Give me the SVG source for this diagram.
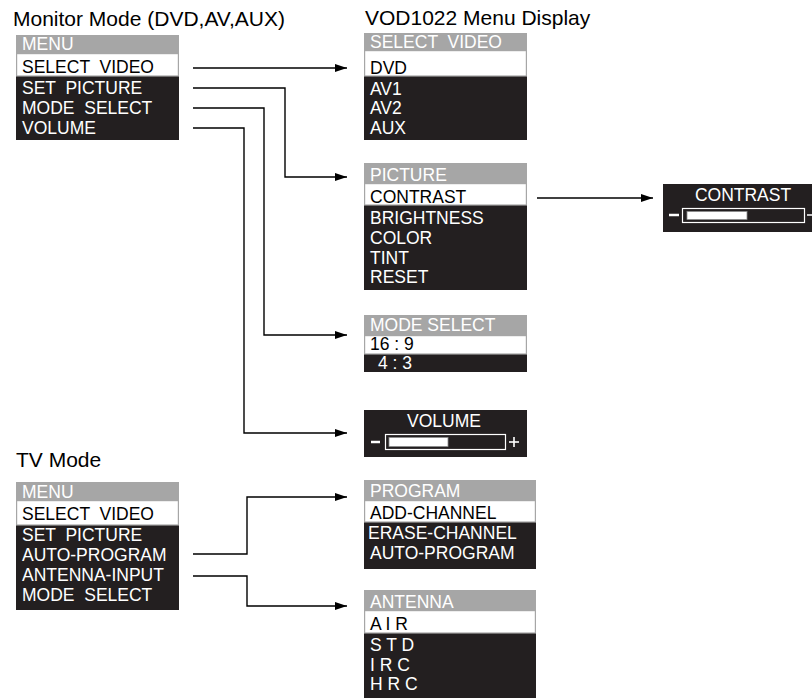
<svg xmlns="http://www.w3.org/2000/svg" width="812" height="700" viewBox="0 0 812 700">
<defs>
<style>
text{font-family:"Liberation Sans",Arial,sans-serif}
.ttl{font-size:21px;fill:#000}
.it{font-size:17.5px}
.hd{fill:#a6a6a6}
.hdt{fill:#ffffff}
.wr{fill:#ffffff;stroke:#a6a6a6;stroke-width:1.2}
.wt{fill:#000}
.bk{fill:#231f20}
.bt{fill:#ffffff}
.cn{fill:none;stroke:#000;stroke-width:1.4}
.wl{stroke:#fff;fill:none}
</style>
<marker id="ah" viewBox="0 0 12 8" refX="12" refY="4" markerWidth="12" markerHeight="8" markerUnits="userSpaceOnUse" orient="auto">
<path d="M0,0 L12,4 L0,8 Z" fill="#000"/>
</marker>
</defs>
<rect width="812" height="700" fill="#fff"/>

<text class="ttl" x="13" y="26">Monitor Mode (DVD,AV,AUX)</text>
<text class="ttl" x="365" y="25">VOD1022 Menu Display</text>
<text class="ttl" x="16" y="467">TV Mode</text>

<g id="monitor-menu">
<rect class="hd" x="16" y="35" width="163" height="18"/>
<rect class="bk" x="16" y="76" width="163" height="64"/>
<rect class="wr" x="16.6" y="53.6" width="161.8" height="22.4"/>
<text class="it hdt" x="22" y="50">MENU</text>
<text class="it wt" x="22" y="73" xml:space="preserve">SELECT  VIDEO</text>
<text class="it bt" x="22" y="94" xml:space="preserve">SET  PICTURE</text>
<text class="it bt" x="22" y="114" xml:space="preserve">MODE  SELECT</text>
<text class="it bt" x="22" y="134">VOLUME</text>
</g>

<g id="select-video">
<rect class="hd" x="364" y="33" width="163" height="17"/>
<rect class="bk" x="364" y="76" width="163" height="64"/>
<rect class="wr" x="364.6" y="50.6" width="161.8" height="25.4"/>
<text class="it hdt" x="370" y="48" xml:space="preserve">SELECT  VIDEO</text>
<text class="it wt" x="370" y="74">DVD</text>
<text class="it bt" x="370" y="95">AV1</text>
<text class="it bt" x="370" y="114">AV2</text>
<text class="it bt" x="370" y="134">AUX</text>
</g>

<g id="picture">
<rect class="hd" x="364" y="163" width="163" height="20"/>
<rect class="bk" x="364" y="205" width="163" height="85"/>
<rect class="wr" x="364.6" y="183.6" width="161.8" height="21.4"/>
<text class="it hdt" x="370" y="181">PICTURE</text>
<text class="it wt" x="370" y="203">CONTRAST</text>
<text class="it bt" x="370" y="224">BRIGHTNESS</text>
<text class="it bt" x="370" y="244">COLOR</text>
<text class="it bt" x="370" y="264">TINT</text>
<text class="it bt" x="370" y="283">RESET</text>
</g>

<g id="contrast-bar">
<rect class="bk" x="663" y="184" width="163" height="48"/>
<text class="it bt" x="743" y="201" text-anchor="middle">CONTRAST</text>
<line class="wl" x1="669" y1="215" x2="679" y2="215" stroke-width="2.5"/>
<rect class="wl" x="682.5" y="208.5" width="122" height="14" stroke-width="1.2"/>
<rect x="687" y="211.5" width="60" height="8" fill="#fff" stroke="#8a8a8a" stroke-width="0.8"/>
<line class="wl" x1="807" y1="215" x2="816" y2="215" stroke-width="1.5"/>
</g>

<g id="mode-select">
<rect class="hd" x="364" y="315" width="163" height="20"/>
<rect class="bk" x="364" y="354" width="163" height="18"/>
<rect class="wr" x="364.6" y="335.6" width="161.8" height="18.4"/>
<text class="it hdt" x="370" y="331">MODE SELECT</text>
<text class="it wt" x="370" y="350">16 : 9</text>
<text class="it bt" x="378" y="369">4 : 3</text>
</g>

<g id="volume-bar">
<rect class="bk" x="364" y="410" width="163" height="47"/>
<text class="it bt" x="444" y="427" text-anchor="middle">VOLUME</text>
<line class="wl" x1="371" y1="442" x2="380" y2="442" stroke-width="2.5"/>
<rect class="wl" x="385.5" y="434.5" width="120" height="15" stroke-width="1.2"/>
<rect x="389" y="437.5" width="59" height="9" fill="#fff" stroke="#8a8a8a" stroke-width="0.8"/>
<line class="wl" x1="509" y1="442" x2="519" y2="442" stroke-width="1.6"/>
<line class="wl" x1="514" y1="437" x2="514" y2="447" stroke-width="1.6"/>
</g>

<g id="tv-menu">
<rect class="hd" x="16" y="482" width="163" height="18"/>
<rect class="bk" x="16" y="525" width="163" height="85"/>
<rect class="wr" x="16.6" y="500.6" width="161.8" height="24.4"/>
<text class="it hdt" x="22" y="498">MENU</text>
<text class="it wt" x="22" y="520" xml:space="preserve">SELECT  VIDEO</text>
<text class="it bt" x="22" y="541" xml:space="preserve">SET  PICTURE</text>
<text class="it bt" x="22" y="561">AUTO-PROGRAM</text>
<text class="it bt" x="22" y="581">ANTENNA-INPUT</text>
<text class="it bt" x="22" y="601" xml:space="preserve">MODE  SELECT</text>
</g>

<g id="program">
<rect class="hd" x="364" y="480" width="172" height="20"/>
<rect class="bk" x="364" y="522" width="172" height="47"/>
<rect class="wr" x="364.6" y="500.6" width="170.8" height="21.4"/>
<text class="it hdt" x="370" y="497">PROGRAM</text>
<text class="it wt" x="370" y="519">ADD-CHANNEL</text>
<text class="it bt" x="368" y="539">ERASE-CHANNEL</text>
<text class="it bt" x="370" y="559">AUTO-PROGRAM</text>
</g>

<g id="antenna">
<rect class="hd" x="364" y="590" width="172" height="20"/>
<rect class="bk" x="364" y="633" width="172" height="65"/>
<rect class="wr" x="364.6" y="610.6" width="170.8" height="22.4"/>
<text class="it hdt" x="370" y="608">ANTENNA</text>
<text class="it wt" x="370" y="630">A I R</text>
<text class="it bt" x="370" y="651">S T D</text>
<text class="it bt" x="370" y="671">I R C</text>
<text class="it bt" x="370" y="690">H R C</text>
</g>

<g id="connectors">
<path class="cn" d="M193 68 H347" marker-end="url(#ah)"/>
<path class="cn" d="M193 88 H285 V177 H347" marker-end="url(#ah)"/>
<path class="cn" d="M193 108 H264 V335 H347" marker-end="url(#ah)"/>
<path class="cn" d="M193 128 H244 V433 H347" marker-end="url(#ah)"/>
<path class="cn" d="M537 198 H653" marker-end="url(#ah)"/>
<path class="cn" d="M193 554 H247 V497 H347" marker-end="url(#ah)"/>
<path class="cn" d="M193 576 H247 V606 H347" marker-end="url(#ah)"/>
</g>
</svg>
